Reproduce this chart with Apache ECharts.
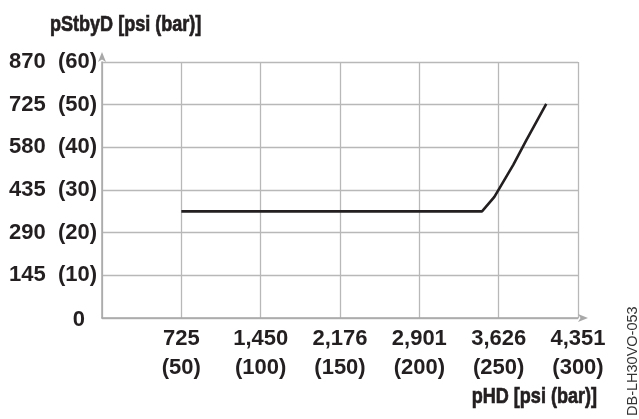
<!DOCTYPE html>
<html>
<head>
<meta charset="utf-8">
<script src="https://cdn.jsdelivr.net/npm/echarts@6/dist/echarts.min.js"></script>
<style>html,body{margin:0;padding:0;background:#fff;}#c{width:639px;height:419px;}</style>
</head>
<body>
<div id="c"></div>
<script>
// pHD in bar, pStbyD in bar
const pHD_bar   = [50, 239.5, 247.3, 259.2, 267.2, 280];
const pStbyD_bar = [25, 25, 28.4, 35.9, 41.5, 50.2];
const xTickBar = [0, 50, 100, 150, 200, 250, 300];
const xTickPsi = ['', '725', '1,450', '2,176', '2,901', '3,626', '4,351'];
const yTickBar = [0, 10, 20, 30, 40, 50, 60];
const yTickPsi = ['0', '145', '290', '435', '580', '725', '870'];

const chart = echarts.init(document.getElementById('c'), null, {renderer: 'canvas'});
const font = '"Liberation Sans", Arial, sans-serif';
const axisLine = {show: true, lineStyle: {color: '#a8a8a8', width: 1.5}, symbol: ['none', 'arrow'], symbolSize: [6, 10], symbolOffset: [0, 10]};
chart.setOption({
  animation: false,
  grid: {left: 102, right: 61, top: 62, bottom: 101},
  xAxis: {
    type: 'value', min: 0, max: 300, interval: 50,
    axisLine: axisLine,
    axisTick: {show: false},
    splitLine: {show: true, lineStyle: {color: '#b8b8b8', width: 1.3}},
    axisLabel: {
      margin: 6, color: '#231f20', fontFamily: font, fontWeight: 'bold', fontSize: 22, lineHeight: 29,
      formatter: function (v) {
        const i = xTickBar.indexOf(v);
        if (i <= 0) return '';
        return xTickPsi[i] + '\n(' + xTickBar[i] + ')';
      }
    }
  },
  yAxis: {
    type: 'value', min: 0, max: 60, interval: 10,
    axisLine: axisLine,
    axisTick: {show: false},
    splitLine: {show: true, lineStyle: {color: '#b8b8b8', width: 1.3}},
    axisLabel: {
      margin: 5, color: '#231f20', fontFamily: font, fontWeight: 'bold', fontSize: 22,
      formatter: function (v) {
        const i = yTickBar.indexOf(v);
        if (i < 0) return '';
        if (i === 0) return '{z|0}';
        return yTickPsi[i] + '  (' + yTickBar[i] + ')';
      },
      rich: {z: {fontFamily: font, fontWeight: 'bold', fontSize: 22, color: '#231f20', padding: [4, 12, 0, 0]}}
    }
  },
  series: [{
    type: 'line',
    data: pHD_bar.map((x, i) => [x, pStbyD_bar[i]]),
    showSymbol: false,
    lineStyle: {color: '#231f20', width: 2.6},
    z: 5
  }],
  graphic: [
    {type: 'text', x: 50, y: 25, scaleX: 0.82, style: {text: 'pStbyD [psi (bar)]', fontFamily: font, fontWeight: 'bold', fontSize: 22, fill: '#231f20', stroke: '#231f20', lineWidth: 0.7, textAlign: 'left', textVerticalAlign: 'middle'}},
    {type: 'text', x: 597, y: 397, scaleX: 0.82, style: {text: 'pHD [psi (bar)]', fontFamily: font, fontWeight: 'bold', fontSize: 22, fill: '#231f20', stroke: '#231f20', lineWidth: 0.7, textAlign: 'right', textVerticalAlign: 'middle'}},
    {type: 'text', x: 625, y: 416, rotation: Math.PI / 2, style: {text: 'DB-LH30VO-053', fontFamily: font, fontSize: 14.5, fill: '#333', textVerticalAlign: 'top'}}
  ]
});
</script>
</body>
</html>
